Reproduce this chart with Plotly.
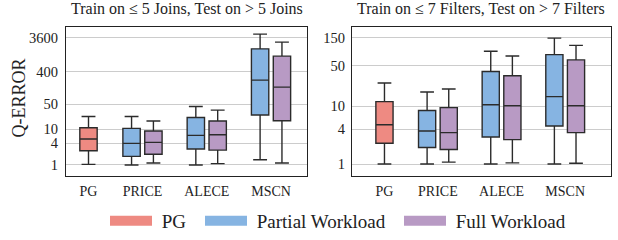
import plotly.graph_objects as go

categories = ["PG", "PRICE", "ALECE", "MSCN"]
cat_pos = [0.16, 1, 2, 3]
series = ["PG", "Partial Workload", "Full Workload"]
colors = {"PG": "#EE8A82", "Partial Workload": "#86B4E2", "Full Workload": "#B89AC4"}

# ---- Left panel: Train on <= 5 Joins, Test on > 5 Joins ----
# stats per box: (lowerfence, q1, median, q3, upperfence)
joins_pg = {"PG": (1.04, 2.5, 5.3, 10.9, 22.6)}
joins_partial = {"PRICE": (1.0, 1.74, 4.0, 10.5, 22.6),
                 "ALECE": (1.0, 2.8, 6.7, 21.2, 42.9),
                 "MSCN": (1.4, 24.7, 233, 1738, 4460)}
joins_full = {"PRICE": (1.14, 2.0, 4.26, 8.85, 16.8),
              "ALECE": (1.09, 2.6, 7.0, 16.8, 34),
              "MSCN": (1.14, 17.1, 149, 1087, 2670)}
joins_ticks = [1, 4, 10, 50, 400, 3600]

# ---- Right panel: Train on <= 7 Filters, Test on > 7 Filters ----
filt_pg = {"PG": (1.0, 2.29, 4.77, 11.9, 24.9)}
filt_partial = {"PRICE": (1.0, 1.93, 3.71, 8.4, 17.5),
                "ALECE": (1.0, 2.93, 10.5, 39.4, 87.8),
                "MSCN": (1.0, 4.52, 14.5, 76.9, 148)}
filt_full = {"PRICE": (1.08, 1.78, 3.48, 9.4, 19.7),
             "ALECE": (1.05, 2.64, 10.1, 33.2, 73),
             "MSCN": (1.03, 3.48, 10.1, 62.4, 111)}
filt_ticks = [1, 4, 10, 50, 150]

panel_titles = ["Train on ≤ 5 Joins, Test on > 5 Joins",
                "Train on ≤ 7 Filters, Test on > 7 Filters"]

FONT = "Liberation Serif"
LINE = "#2b2b2b"
BOXW = 0.27
OFFS = {"PG": 0.0, "Partial Workload": -0.17, "Full Workload": 0.17}
LEGEND_X = {"PG": 105 / 618, "Partial Workload": 200 / 618, "Full Workload": 399 / 618}
LEGEND_ID = {"PG": "legend", "Partial Workload": "legend2", "Full Workload": "legend3"}
PAD = "\u00a0"

fig = go.Figure()

def add_boxes(stats, name, xa, ya):
    for cat, (lo, q1, med, q3, hi) in stats.items():
        x = cat_pos[categories.index(cat)] + OFFS[name]
        fig.add_trace(go.Box(
            x=[x], lowerfence=[lo], q1=[q1], median=[med], q3=[q3], upperfence=[hi],
            width=BOXW, whiskerwidth=0.8, fillcolor=colors[name],
            line=dict(color=LINE, width=1.4), name=name, showlegend=False,
            xaxis=xa, yaxis=ya, hoverinfo="skip"))

add_boxes(joins_pg, "PG", "x", "y")
add_boxes(joins_partial, "Partial Workload", "x", "y")
add_boxes(joins_full, "Full Workload", "x", "y")
add_boxes(filt_pg, "PG", "x2", "y2")
add_boxes(filt_partial, "Partial Workload", "x2", "y2")
add_boxes(filt_full, "Full Workload", "x2", "y2")

for s in series:
    fig.add_trace(go.Scatter(x=[None], y=[None], mode="lines", name=PAD + s,
                             line=dict(color=colors[s], width=10), showlegend=True,
                             legend=LEGEND_ID[s]))

axis_common = dict(showline=True, linecolor="#222", linewidth=1.2, mirror=True,
                   ticks="", zeroline=False)
legend_common = dict(orientation="h", xanchor="left", y=1 - 222 / 240, yanchor="middle",
                     font=dict(size=19), itemwidth=42, bgcolor="rgba(0,0,0,0)",
                     borderwidth=0)
fig.update_layout(
    width=618, height=240, margin=dict(l=0, r=0, t=0, b=0),
    paper_bgcolor="white", plot_bgcolor="white",
    font=dict(family=FONT, color="#222"),
    showlegend=True,
    boxmode="overlay",
    xaxis=dict(domain=[0.1068, 0.4968], range=[-0.19, 3.56], tickvals=cat_pos,
               ticktext=categories, showgrid=False, tickfont=dict(size=14),
               ticklabelstandoff=2, **axis_common),
    yaxis=dict(domain=[0.265, 0.8875], type="log", range=[-0.298, 3.852],
               tickvals=joins_ticks, ticktext=[str(t) for t in joins_ticks],
               showgrid=True, gridcolor="#cccccc", gridwidth=1.3,
               tickfont=dict(size=14.5), ticklabelstandoff=4, **axis_common),
    xaxis2=dict(domain=[0.5696, 0.9887], range=[-0.35, 3.72], tickvals=cat_pos,
                ticktext=categories, showgrid=False, tickfont=dict(size=14),
                ticklabelstandoff=2, anchor="y2", **axis_common),
    yaxis2=dict(domain=[0.265, 0.8875], type="log", range=[-0.2, 2.364],
                tickvals=filt_ticks, ticktext=[str(t) for t in filt_ticks],
                showgrid=True, gridcolor="#cccccc", gridwidth=1.3,
                tickfont=dict(size=14.5), ticklabelstandoff=3,
                anchor="x2", **axis_common),
    legend=dict(x=LEGEND_X["PG"], **legend_common),
    legend2=dict(x=LEGEND_X["Partial Workload"], **legend_common),
    legend3=dict(x=LEGEND_X["Full Workload"], **legend_common),
    annotations=[
        dict(text=panel_titles[0], x=0.3018, y=1 - 9 / 240, xref="paper", yref="paper",
             xanchor="center", yanchor="middle", showarrow=False, font=dict(size=16)),
        dict(text=panel_titles[1], x=0.7791, y=1 - 9 / 240, xref="paper", yref="paper",
             xanchor="center", yanchor="middle", showarrow=False, font=dict(size=16)),
        dict(text="Q-ERROR", x=19 / 618, y=1 - 99 / 240, xref="paper", yref="paper",
             xanchor="center", yanchor="middle", showarrow=False, textangle=-90,
             font=dict(size=18)),
    ],
)

fig.write_html("out.html", config={"displayModeBar": False},
               post_script="document.body.style.margin='0px';")
